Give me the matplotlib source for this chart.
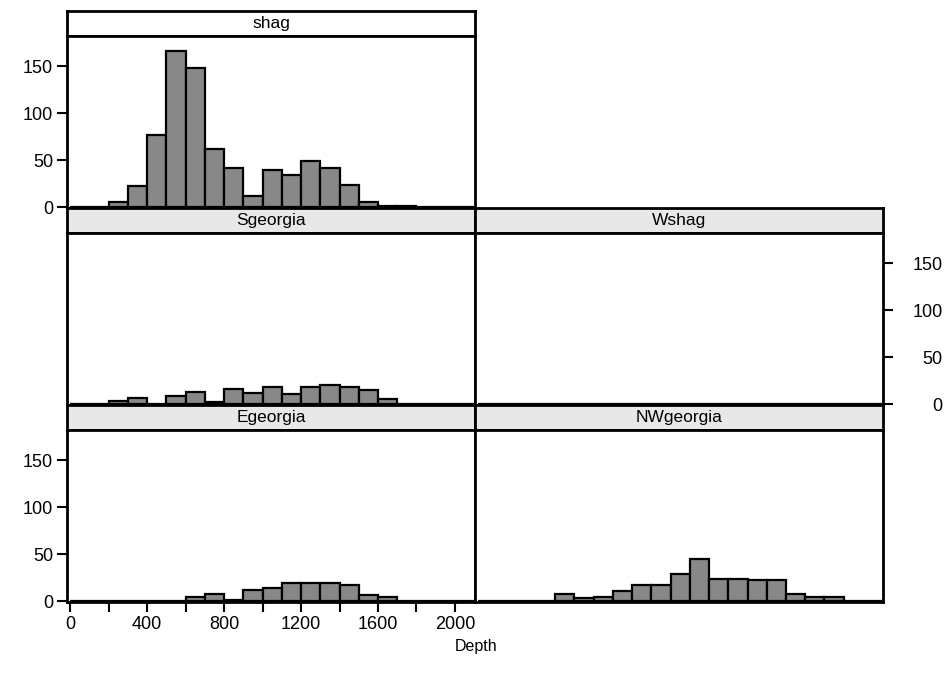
import matplotlib
matplotlib.use("Agg")
import matplotlib.pyplot as plt

plt.rcParams['font.family'] = ['Liberation Sans', 'DejaVu Sans']

# bin left edges (width 100)
depth_bins = [0, 100, 200, 300, 400, 500, 600, 700, 800, 900, 1000,
              1100, 1200, 1300, 1400, 1500, 1600, 1700, 1800, 1900, 2000]
bin_width = 100

shag      = [0, 0, 5, 22, 77, 166, 148, 62, 42, 12, 39, 34, 49, 42, 23, 5, 1, 1, 0, 0, 0]
sgeorgia  = [0, 0, 3, 6, 0, 9, 13, 2, 16, 12, 18, 11, 18, 20, 18, 15, 5, 0, 0, 0, 0]
wshag     = [0] * 21
egeorgia  = [0, 0, 0, 0, 0, 0, 4, 7, 1, 12, 14, 19, 19, 19, 17, 6, 4, 0, 0, 0, 0]
nwgeorgia = [0, 0, 0, 0, 8, 3, 4, 11, 17, 17, 29, 45, 23, 23, 22, 22, 7, 4, 4, 0, 0]

x_ticks = [0, 200, 400, 600, 800, 1000, 1200, 1400, 1600, 1800, 2000]
x_labels = ['0', '', '400', '', '800', '', '1200', '', '1600', '', '2000']
y_ticks = [0, 50, 100, 150]

W, H = 948, 684
fig = plt.figure(figsize=(W / 100, H / 100), dpi=100)

col_x = [67, 475]
col_w = 408
row_top = [11, 208, 405]
strip_h = 25
plot_h = 172

bar_color = '#888888'
lw = 2.0
tick_fs = 13

def make_panel(col, row, name, counts, strip_color, yside=None, xaxis=False):
    x0 = col_x[col]
    top = row_top[row]
    # strip
    sax = fig.add_axes([x0 / W, 1 - (top + strip_h) / H, col_w / W, strip_h / H])
    sax.set_facecolor(strip_color)
    sax.set_xticks([]); sax.set_yticks([])
    for s in sax.spines.values():
        s.set_linewidth(lw)
    sax.text(0.5, 0.5, name, ha='center', va='center', fontsize=12.5, transform=sax.transAxes)
    # plot
    ax = fig.add_axes([x0 / W, 1 - (top + strip_h + plot_h) / H, col_w / W, plot_h / H])
    ax.bar(depth_bins, counts, width=bin_width, align='edge', color=bar_color,
           edgecolor='black', linewidth=1.6)
    ax.set_xlim(-16, 2104)
    ax.set_ylim(-1, 182)
    for s in ax.spines.values():
        s.set_linewidth(lw)
    if yside == 'left':
        ax.set_yticks(y_ticks)
        ax.set_yticklabels([str(v) for v in y_ticks])
        ax.tick_params(axis='y', direction='out', length=7, width=1.5, labelsize=tick_fs, pad=3)
    elif yside == 'right':
        ax.yaxis.tick_right()
        ax.set_yticks(y_ticks)
        ax.set_yticklabels([str(v) for v in y_ticks])
        ax.tick_params(axis='y', direction='out', length=7, width=1.5, labelsize=tick_fs, pad=36)
        for t in ax.get_yticklabels():
            t.set_ha('right')
    else:
        ax.set_yticks([])
    if xaxis:
        ax.set_xticks(x_ticks)
        ax.set_xticklabels(x_labels)
        ax.tick_params(axis='x', direction='out', length=7, width=1.5, labelsize=tick_fs, pad=3)
    else:
        ax.set_xticks([])
    return ax

make_panel(0, 0, 'shag', shag, 'white', yside='left')
make_panel(0, 1, 'Sgeorgia', sgeorgia, '#e8e8e8')
make_panel(1, 1, 'Wshag', wshag, '#e8e8e8', yside='right')
make_panel(0, 2, 'Egeorgia', egeorgia, '#e8e8e8', yside='left', xaxis=True)
make_panel(1, 2, 'NWgeorgia', nwgeorgia, '#e8e8e8')

fig.text(476 / W, 1 - 646 / H, 'Depth', ha='center', va='center', fontsize=11.5)

fig.savefig('out.png', dpi=100)
